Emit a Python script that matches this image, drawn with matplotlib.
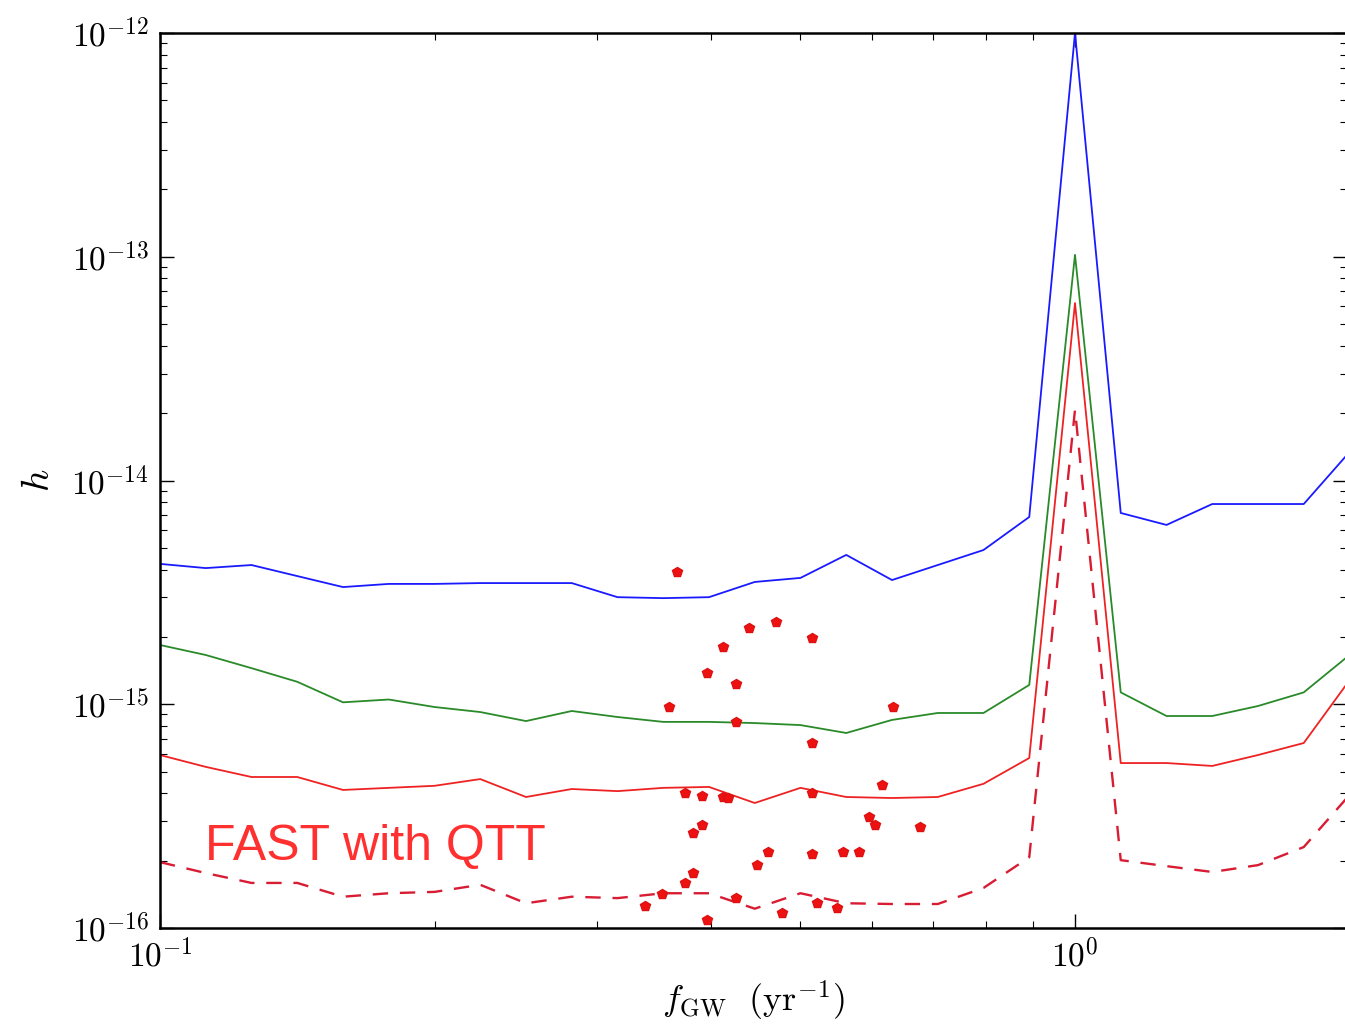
import numpy as np
import matplotlib
matplotlib.use("Agg")
import matplotlib.pyplot as plt
from matplotlib.ticker import FuncFormatter, LogLocator, NullFormatter

plt.rcParams['mathtext.fontset'] = 'cm'

# frequency grid (yr^-1), 20 points per decade
f_gw = 0.1 * 10 ** (np.arange(27) / 20.0)

h_blue = [4.24e-15, 4.06e-15, 4.19e-15, 3.74e-15, 3.34e-15, 3.45e-15, 3.45e-15,
          3.48e-15, 3.48e-15, 3.48e-15, 3.01e-15, 2.98e-15, 3.01e-15, 3.52e-15,
          3.67e-15, 4.65e-15, 3.59e-15, 4.19e-15, 4.89e-15, 6.87e-15, 1.0e-12,
          7.16e-15, 6.33e-15, 7.85e-15, 7.85e-15, 7.85e-15, 1.34e-14]
h_green = [1.84e-15, 1.66e-15, 1.45e-15, 1.26e-15, 1.02e-15, 1.05e-15, 9.72e-16,
           9.23e-16, 8.41e-16, 9.33e-16, 8.77e-16, 8.34e-16, 8.34e-16, 8.24e-16,
           8.07e-16, 7.44e-16, 8.51e-16, 9.14e-16, 9.14e-16, 1.22e-15, 1.02e-13,
           1.13e-15, 8.86e-16, 8.86e-16, 9.82e-16, 1.13e-15, 1.66e-15]
h_red = [5.93e-16, 5.25e-16, 4.73e-16, 4.73e-16, 4.14e-16, 4.23e-16, 4.32e-16,
         4.63e-16, 3.85e-16, 4.18e-16, 4.09e-16, 4.23e-16, 4.27e-16, 3.62e-16,
         4.23e-16, 3.85e-16, 3.81e-16, 3.85e-16, 4.41e-16, 5.75e-16, 6.21e-14,
         5.46e-16, 5.46e-16, 5.30e-16, 5.93e-16, 6.71e-16, 1.28e-15]
h_red_dash = [1.97e-16, 1.76e-16, 1.59e-16, 1.59e-16, 1.38e-16, 1.43e-16, 1.45e-16,
              1.56e-16, 1.29e-16, 1.38e-16, 1.36e-16, 1.43e-16, 1.43e-16, 1.22e-16,
              1.43e-16, 1.29e-16, 1.28e-16, 1.28e-16, 1.51e-16, 2.07e-16, 2.07e-14,
              2.01e-16, 1.89e-16, 1.78e-16, 1.91e-16, 2.30e-16, 3.93e-16]

# pulsar points
psr_f = [0.3673, 0.4403, 0.4712, 0.5160, 0.4124, 0.3962, 0.4261, 0.3599, 0.4261,
         0.6325, 0.5160, 0.6152, 0.3748, 0.3912, 0.4124, 0.4177, 0.5160, 0.5954,
         0.6044, 0.6770, 0.3912, 0.3825, 0.4620, 0.4494, 0.5160, 0.5577, 0.5806,
         0.3825, 0.3748, 0.3536, 0.3389, 0.4261, 0.5224, 0.5495, 0.3962, 0.4784]
psr_h = [3.90e-15, 2.19e-15, 2.33e-15, 1.98e-15, 1.80e-15, 1.38e-15, 1.23e-15,
         9.72e-16, 8.34e-16, 9.72e-16, 6.71e-16, 4.36e-16, 4.01e-16, 3.89e-16,
         3.85e-16, 3.81e-16, 4.01e-16, 3.13e-16, 2.89e-16, 2.83e-16, 2.89e-16,
         2.66e-16, 2.19e-16, 1.91e-16, 2.14e-16, 2.19e-16, 2.19e-16, 1.76e-16,
         1.59e-16, 1.42e-16, 1.25e-16, 1.36e-16, 1.29e-16, 1.23e-16, 1.09e-16,
         1.17e-16]

fig = plt.figure(figsize=(13.45, 10.28), dpi=100)
ax = fig.add_axes([160 / 1345, 100 / 1028, 1187 / 1345, 895 / 1028])

ax.plot(f_gw, h_blue, color='#1a1aff', lw=1.3)
ax.plot(f_gw, h_green, color='#2a8a2a', lw=1.3)
ax.plot(f_gw, h_red, color='#ee2222', lw=1.3)
ax.plot(f_gw, h_red_dash, color='#d81c34', lw=1.7, dashes=(6.5, 5))
ax.plot(psr_f, psr_h, 'p', color='#ee1111', ms=7, mec='#dd1111')

ax.set_xscale('log')
ax.set_yscale('log')
ax.set_xlim(0.1, 10 ** (1187 / 915 - 1))
ax.set_ylim(1e-16, 1e-12)

fmt = FuncFormatter(lambda v, p: r'$10^{%d}$' % int(round(np.log10(v))))
ax.xaxis.set_major_formatter(fmt)
ax.yaxis.set_major_formatter(fmt)
ax.xaxis.set_minor_locator(LogLocator(subs=np.arange(2, 10)))
ax.yaxis.set_minor_locator(LogLocator(subs=np.arange(2, 10)))
ax.xaxis.set_minor_formatter(NullFormatter())
ax.yaxis.set_minor_formatter(NullFormatter())
ax.tick_params(which='both', direction='in', top=True, right=True, labelsize=24)
ax.tick_params(which='major', length=10, width=1.0, pad=8)
ax.tick_params(which='minor', length=5, width=0.8)
for s in ax.spines.values():
    s.set_linewidth(1.8)

ax.set_xlabel(r'$f_{\rm GW}\ \ ({\rm yr}^{-1})$', fontsize=26, labelpad=4)
ax.set_ylabel(r'$h$', fontsize=28, labelpad=10)

ax.text(45 / 1187, 68 / 895, 'FAST with QTT', transform=ax.transAxes,
        color='#ff3030', fontsize=36, family='Liberation Sans')

fig.savefig('out.png', dpi=100)
